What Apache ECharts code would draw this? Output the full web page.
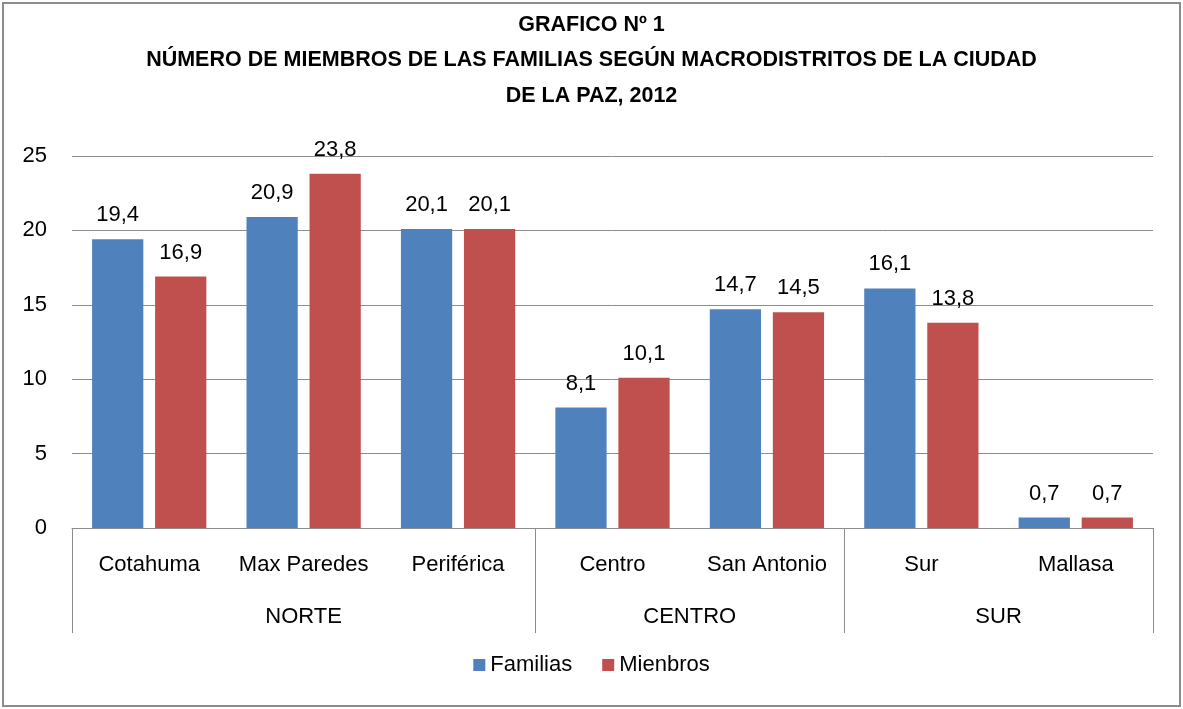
<!DOCTYPE html>
<html>
<head>
<meta charset="utf-8">
<script src="https://cdn.jsdelivr.net/npm/echarts@6/dist/echarts.min.js"></script>
<style>
  html, body { margin: 0; padding: 0; background: #fff; }
  #chart { position: absolute; left: 2px; top: 2px; width: 1175px; height: 701px; border: 2px solid #8c8c8c; }
</style>
</head>
<body>
<div id="chart"></div>
<script>
// values
const categories = ['Cotahuma', 'Max Paredes', 'Periférica', 'Centro', 'San Antonio', 'Sur', 'Mallasa'];
const familias = [19.4, 20.9, 20.1, 8.1, 14.7, 16.1, 0.7];
const miembros = [16.9, 23.8, 20.1, 10.1, 14.5, 13.8, 0.7];
const groupNames = ['NORTE', 'CENTRO', 'SUR'];
const groupSizes = [3, 2, 2];
const seriesNames = ['Familias', 'Mienbros'];

// second level of the axis: half-category points, labels at group centres, ticks at group edges
const halfCount = categories.length * 2 + 1;
const groupSlots = [];
const groupLabels = [];
const groupEdges = [0];
let start = 0;
for (let i = 0; i < halfCount; i++) {
  groupSlots.push(String(i));
  groupLabels.push('');
}
groupNames.forEach(function (name, i) {
  groupLabels[2 * start + groupSizes[i]] = name;
  start += groupSizes[i];
  groupEdges.push(2 * start);
});

const fontFamily = 'Liberation Sans, Arial, sans-serif';
const chart = echarts.init(document.getElementById('chart'));

function fmt(v) {
  return String(v.toFixed(1)).replace('.', ',');
}

const option = {
  animation: false,
  textStyle: { fontFamily: fontFamily },
  title: {
    text: 'GRAFICO Nº 1\nNÚMERO DE MIEMBROS DE LAS FAMILIAS SEGÚN MACRODISTRITOS DE LA CIUDAD\nDE LA PAZ, 2012',
    left: 'center',
    top: -2,
    textStyle: { fontSize: 21.5, fontWeight: 'bold', color: '#000', lineHeight: 35.5, fontFamily: fontFamily }
  },
  color: ['#4F81BD', '#C0504D'],
  legend: {
    bottom: 24,
    left: 'center',
    itemWidth: 12,
    itemHeight: 12,
    itemGap: 30,
    icon: 'rect',
    textStyle: { fontSize: 22, color: '#000' },
    data: seriesNames
  },
  grid: { left: 68, right: 26, top: 152, bottom: 177 },
  xAxis: [
    {
      type: 'category',
      data: categories,
      position: 'bottom',
      axisLine: { show: true, lineStyle: { color: '#8c8c8c', width: 1 } },
      axisTick: { show: false },
      axisLabel: { margin: 26, fontSize: 22, color: '#000', interval: 0 }
    },
    {
      type: 'category',
      data: groupSlots,
      position: 'bottom',
      boundaryGap: false,
      axisLine: { show: false },
      axisTick: {
        show: true,
        length: 105,
        lineStyle: { color: '#8c8c8c', width: 1 },
        interval: function (index) { return groupEdges.indexOf(index) >= 0; }
      },
      axisLabel: {
        margin: 78,
        fontSize: 22,
        color: '#000',
        interval: 0,
        formatter: function (value, index) { return groupLabels[index]; }
      }
    }
  ],
  yAxis: {
    type: 'value',
    min: 0,
    max: 25,
    interval: 5,
    axisLine: { show: false },
    axisTick: { show: false },
    axisLabel: { margin: 25, fontSize: 22, color: '#000' },
    splitLine: { lineStyle: { color: '#8c8c8c', width: 1 } }
  },
  series: [
    {
      name: seriesNames[0],
      type: 'bar',
      data: familias,
      barGap: '23%',
      barCategoryGap: '26%',
      label: { show: true, position: 'top', distance: 13, fontSize: 22, color: '#000', formatter: function (p) { return fmt(p.value); } }
    },
    {
      name: seriesNames[1],
      type: 'bar',
      data: miembros,
      barGap: '23%',
      barCategoryGap: '26%',
      label: { show: true, position: 'top', distance: 13, fontSize: 22, color: '#000', formatter: function (p) { return fmt(p.value); } }
    }
  ]
};

chart.setOption(option);
</script>
</body>
</html>
